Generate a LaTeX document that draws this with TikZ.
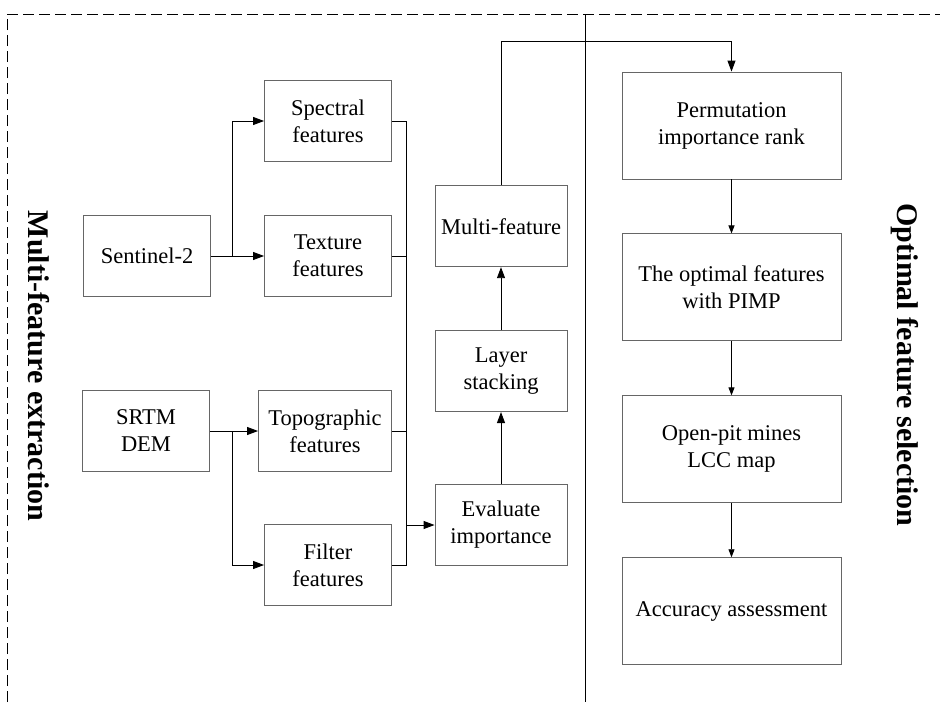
\documentclass[tikz,border=0pt]{standalone}
\usepackage{fontspec}
\setmainfont{Liberation Serif}
\usetikzlibrary{positioning, arrows.meta}
\tikzset{box node/.style={rectangle,draw=black!60,line width=0.9pt,minimum width=127pt,minimum height=81pt,inner sep=0pt,align=center,font=\fontsize{22.5}{27}\selectfont},
  big node/.style={box node,minimum width=219pt,minimum height=107pt},
  side label/.style={rotate=-90,font=\fontsize{30}{30}\selectfont\bfseries},
  arr/.style={-{Triangle[length=11pt,width=8pt]}},
  small arr/.style={-{Triangle[length=8pt,width=6pt]}}}

\begin{document}
\begin{tikzpicture}[x=1pt,y=-1pt,line width=0.9pt]
            \useasboundingbox (0,0) rectangle (940,702);
            % frame and divider
            \draw[dash pattern=on 11pt off 5pt] (7,702) -- (7,14) -- (940,14);
            \draw (585,14) -- (585,702);

            % left part
            \node[box node] (sen) at (147,256) {Sentinel-2};
            \node[box node] (srtm) at (146,431) {SRTM\\DEM};
            \node[box node] (spec) at (328,121) {Spectral\\features};
            \node[box node] (tex) at (328,256) {Texture\\features};
            \node[box node, minimum width=133pt] (topo) at (325,431) {Topographic\\features};
            \node[box node] (filt) at (328,565) {Filter\\features};
            \node[box node, minimum width=132pt] (eval) at (501,525) {Evaluate\\importance};
            \node[box node, minimum width=132pt] (layer) [above = 72pt of eval] {Layer\\stacking};
            \node[box node, minimum width=132pt] (multi) [above = 63pt of layer] {Multi-feature};

            % right part
            \node[big node] (perm) at (731.5,125.5) {Permutation\\importance rank};
            \node[big node] (opt) [below = 54pt of perm] {The optimal features\\with PIMP};
            \node[big node] (lcc) [below = 54pt of opt] {Open-pit mines\\LCC map};
            \node[big node] (acc) [below = 54pt of lcc] {Accuracy assessment};

            \node[side label] (lab1) at (39,366) {Multi-feature extraction};
            \node[side label] (lab2) at (905,365) {Optimal feature selection};

            \coordinate (sj) at (232,256);
            \coordinate (dj) at (232,431);
            \coordinate (bus) at (406,525);
            \coordinate (turn) at (731.5,41);

            \path[draw, arr]
            (sen) edge (tex)
            (srtm) edge (topo)
            (eval) edge (layer)
            (layer) edge (multi);
            \path[draw, small arr]
            (perm) edge (opt)
            (opt) edge (lcc)
            (lcc) edge (acc);

            \draw[arr] (sj) |- (spec.west);
            \draw[arr] (dj) |- (filt.west);
            \draw (spec.east) -| (bus |- filt.east) -- (filt.east);
            \draw (tex.east) -- (tex.east -| bus);
            \draw (topo.east) -- (topo.east -| bus);
            \draw[arr] (bus) -- (eval.west);
            \draw[arr] (multi.north) |- (turn) -- (perm.north);
        \end{tikzpicture}
\end{document}
